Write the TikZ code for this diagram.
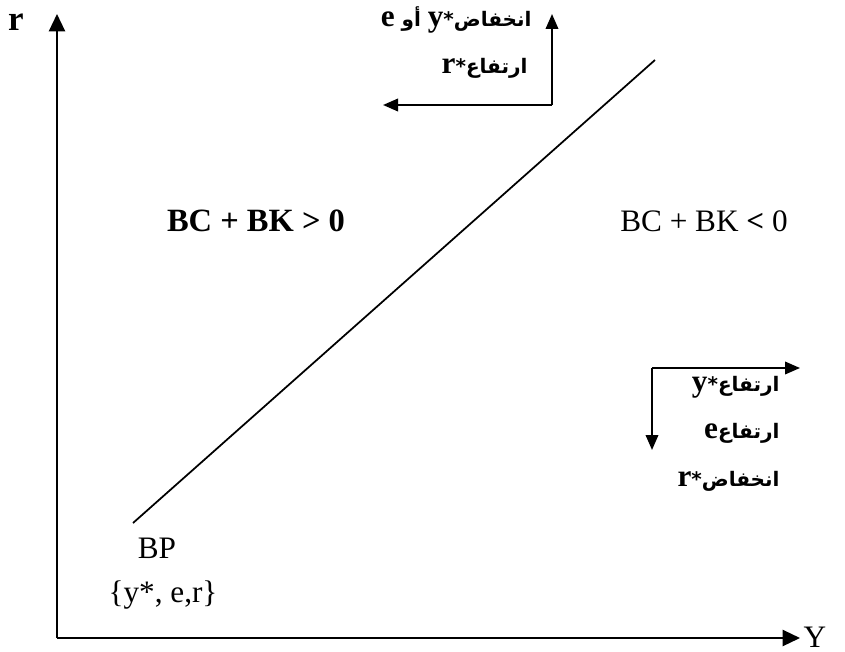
\documentclass[tikz,border=0pt]{standalone}
\usepackage{fontspec}
\setmainfont{Liberation Serif}
\newfontfamily\arabicfont[Script=Arabic]{DejaVu Sans}
\TeXXeTstate=1
\usetikzlibrary{arrows.meta}
\newcommand\latb[1]{{\rmfamily\bfseries\fontsize{12.5}{14}\selectfont #1}}
\begin{document}
\begin{tikzpicture}[x=0.4pt,y=-0.4pt,
  ax/.style={line width=0.8pt,-{Triangle[length=7pt,width=6.5pt]}},
  sm/.style={line width=0.8pt,-{Triangle[length=6pt,width=5pt]}},
  ln/.style={line width=0.7pt},
  ar/.style={font=\arabicfont\bfseries\fontsize{8}{9}\selectfont, inner sep=0pt},
  lab/.style={font=\fontsize{12.5}{14}\selectfont, inner sep=0pt},
  labb/.style={font=\bfseries\fontsize{13}{15}\selectfont, inner sep=0pt}]
\useasboundingbox (0,0) rectangle (845,652);
% axes
\coordinate (O) at (57,638);
\coordinate (T) at (57,14);
\coordinate (R) at (800,638);
\draw[ax] (O) -- (T);
\draw[ax] (O) -- (R);
\node[labb, font=\bfseries\fontsize{14}{16}\selectfont] (r) at (16,22) {r};
\node[lab] (Y) at (815,637) {Y};
% BP line
\coordinate (L1) at (133,523);
\coordinate (L2) at (655,60);
\draw[ln] (L1) -- (L2);
\node[lab] (bp) at (157,548) {BP};
\node[lab] (set) at (163,595) {\{y*, e,r\}};
% region labels
\node[labb] (pos) at (256,221) {BC + BK > 0};
\node[lab] (neg) at (704,221) {BC + BK \textbf{<} 0};
% upper arrows
\coordinate (U) at (552,105);
\coordinate (Ut) at (552,14);
\coordinate (Ul) at (383,105);
\draw[sm] (U) -- (Ut);
\draw[sm] (U) -- (Ul);
\node[ar, anchor=east] (u1) at (532,20) {\beginR انخفاض\beginL\latb{y}*\endL{} أو \beginL\latb{e}\endL\endR};
\node[ar, anchor=east] (u2) at (528,68) {\beginR ارتفاع\beginL\latb{r}*\endL\endR};
% lower arrows
\coordinate (D) at (652,368);
\coordinate (Dr) at (800,368);
\coordinate (Dd) at (652,450);
\draw[sm] (D) -- (Dr);
\draw[sm] (D) -- (Dd);
\node[ar, anchor=east] (d1) at (780,387) {\beginR ارتفاع\beginL\latb{y}*\endL\endR};
\node[ar, anchor=east] (d2) at (780,433) {\beginR ارتفاع\beginL\latb{e}\endL\endR};
\node[ar, anchor=east] (d3) at (780,481) {\beginR انخفاض\beginL\latb{r}*\endL\endR};
\end{tikzpicture}
\end{document}
